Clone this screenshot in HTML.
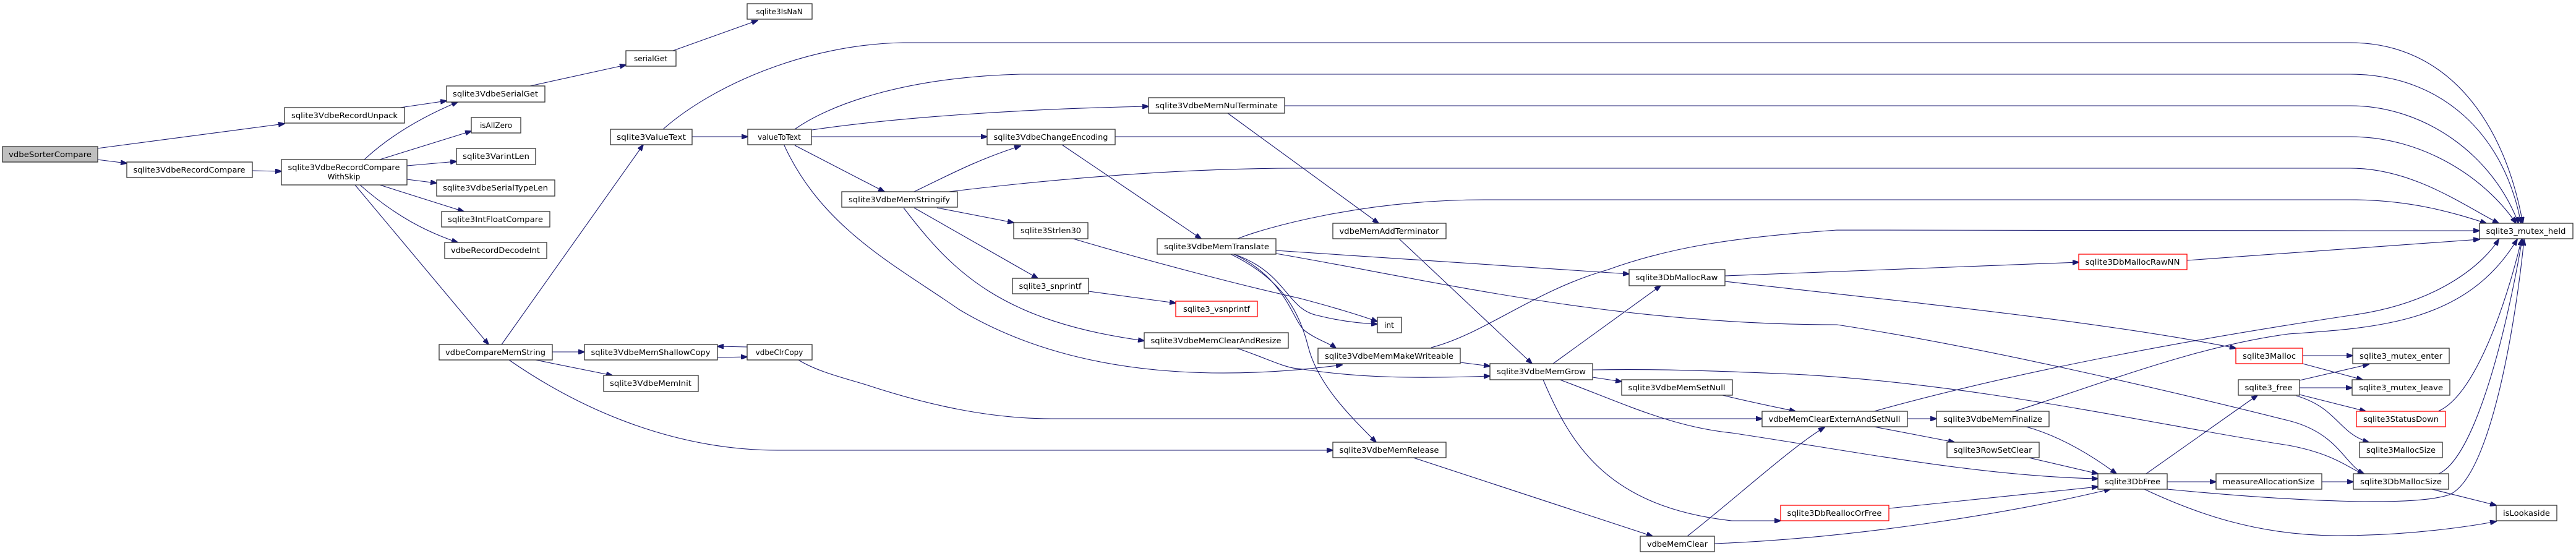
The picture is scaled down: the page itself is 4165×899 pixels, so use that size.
<!DOCTYPE html>
<html><head><meta charset="utf-8"><style>
html,body{margin:0;padding:0;background:#fff;}
svg{display:block}
.n rect{fill:#fff;stroke:#333;stroke-width:1.3}
.r rect{fill:#fff;stroke:#ff0000;stroke-width:1.3}
.g rect{fill:#bfbfbf;stroke:#333;stroke-width:1.3}
text{font-family:"DejaVu Sans","Liberation Sans",sans-serif;font-size:12px;fill:#000;text-anchor:middle}
path{fill:none;stroke:#191970;stroke-width:1.1}
</style></head><body>
<svg width="4165" height="899" viewBox="0 0 4165 899" xmlns="http://www.w3.org/2000/svg">
<defs><marker id="a" markerWidth="11" markerHeight="8" refX="10" refY="4" orient="auto" markerUnits="userSpaceOnUse"><path d="M0,0 L11,4 L0,8 z" style="fill:#191970;stroke:#191970;stroke-width:1"/></marker></defs>
<g marker-end="url(#a)">
<path d="M157,240 L460,200"/>
<path d="M157,258 L205,264"/>
<path d="M408,276 L455,277"/>
<path d="M647,174 L722,163"/>
<path d="M589,258 C630,220 680,190 740,165"/>
<path d="M614,258 L762,212"/>
<path d="M658,268 L738,261"/>
<path d="M658,290 L706,296"/>
<path d="M614,299 L750,342"/>
<path d="M582,299 C640,350 690,375 740,392"/>
<path d="M574,299 L790,557"/>
<path d="M857,139 L1012,105"/>
<path d="M1088,82 L1225,33"/>
<path d="M811,557 L1040,234"/>
<path d="M893,569 L945,569"/>
<path d="M866,582 L990,607"/>
<path d="M823,582 C950,670 1100,728 1258,728 L2155,728"/>
<path d="M1160,578 L1208,577"/>
<path d="M1208,561 L1160,560"/>
<path d="M1291,582 C1320,600 1360,610 1400,622 C1500,655 1600,677 1700,677 L2849,677"/>
<path d="M1119,221 L1209,221"/>
<path d="M1072,209 C1150,140 1300,72 1460,69 L3800,69 C3960,69 4050,200 4079,361"/>
<path d="M1285,209 C1340,170 1460,125 1650,120 L3800,120 C3950,120 4050,220 4076,361"/>
<path d="M1313,210 C1450,190 1650,176 1857,172"/>
<path d="M2077,171 L3800,171 C3920,171 4030,250 4072,361"/>
<path d="M1312,221 L1596,221"/>
<path d="M1803,221 L3800,221 C3920,221 4020,290 4068,361"/>
<path d="M1285,235 L1430,310"/>
<path d="M1268,235 C1330,370 1450,430 1550,500 C1750,620 2000,612 2170,590"/>
<path d="M1478,310 C1530,285 1580,258 1650,236"/>
<path d="M1534,310 C1700,290 1900,272 2100,272 L3800,272 C3900,272 3980,330 4040,361"/>
<path d="M1515,336 L1639,360"/>
<path d="M1478,336 L1678,450"/>
<path d="M1461,336 C1540,440 1620,520 1850,551"/>
<path d="M1760,471 L1901,490"/>
<path d="M1735,386 C1850,420 2000,460 2100,482 C2150,495 2200,510 2227,520"/>
<path d="M1995,411 C2080,440 2080,500 2130,510 C2170,520 2200,523 2227,524"/>
<path d="M1995,411 C2080,450 2090,520 2110,535 C2130,550 2150,555 2160,563"/>
<path d="M1990,411 C2070,450 2100,500 2115,560 C2130,620 2180,670 2225,715"/>
<path d="M2001,386 C2040,370 2200,323 2400,323 L3800,323 C3900,323 3970,345 4020,361"/>
<path d="M2063,405 L2634,443"/>
<path d="M2063,410 C2300,450 2600,525 2970,525 C3200,560 3500,630 3700,680 C3780,700 3790,750 3822,766"/>
<path d="M1985,183 L2229,361"/>
<path d="M1717,234 L1942,386"/>
<path d="M2262,386 L2477,588"/>
<path d="M2000,563 C2050,580 2080,596 2100,596 C2200,612 2300,612 2409,608"/>
<path d="M2361,586 L2409,592"/>
<path d="M2314,562 C2400,540 2480,470 2600,436 C2700,400 2800,384 2970,372 L3800,373 L4009,373"/>
<path d="M2511,588 L2685,462"/>
<path d="M2575,610 L2622,617"/>
<path d="M2575,598 C2700,596 2800,601 2900,605 C3200,620 3500,690 3700,720 C3780,735 3800,760 3822,766"/>
<path d="M2522,614 C2620,650 2700,690 2800,700 C3000,730 3200,770 3392,774"/>
<path d="M2495,614 C2540,720 2600,820 2800,842 L2879,842"/>
<path d="M2785,639 C2830,650 2870,658 2903,665"/>
<path d="M2285,740 L2672,867"/>
<path d="M2728,867 C2800,811 2900,720 2950,691"/>
<path d="M2772,879 C3000,870 3250,830 3412,791"/>
<path d="M3030,665 C3300,590 3600,540 3800,510 C3950,490 4020,420 4040,387"/>
<path d="M3084,677 L3131,677"/>
<path d="M3030,690 L3160,715"/>
<path d="M3276,690 C3330,705 3380,735 3422,766"/>
<path d="M3257,665 C3400,620 3550,560 3700,540 C3850,530 3990,520 4070,387"/>
<path d="M3280,740 L3392,766"/>
<path d="M3054,822 L3392,787"/>
<path d="M2789,446 L3361,424"/>
<path d="M2789,455 C3100,490 3400,520 3615,563"/>
<path d="M3536,421 L4009,387"/>
<path d="M3470,766 L3650,639"/>
<path d="M3504,779 L3583,779"/>
<path d="M3504,791 C3700,810 3900,820 3960,800 C4030,770 4070,500 4081,387"/>
<path d="M3467,791 C3550,830 3650,866 3780,866 C3900,866 4000,850 4036,843"/>
<path d="M3754,779 L3805,779"/>
<path d="M3943,766 C4000,740 4050,550 4078,387"/>
<path d="M3932,791 L4036,817"/>
<path d="M3723,575 L3804,575"/>
<path d="M3723,588 L3820,614"/>
<path d="M3718,615 L3830,589"/>
<path d="M3718,627 L3803,627"/>
<path d="M3718,638 L3825,665"/>
<path d="M3713,640 C3780,660 3780,700 3830,715"/>
<path d="M3942,665 C4000,640 4050,500 4077,387"/>
</g>
<g class="g"><rect x="4" y="237" width="154" height="25"/><text x="81" y="254" textLength="134" lengthAdjust="spacingAndGlyphs">vdbeSorterCompare</text></g>
<g class="n"><rect x="460" y="174" width="194" height="25"/><text x="557" y="191" textLength="172" lengthAdjust="spacingAndGlyphs">sqlite3VdbeRecordUnpack</text></g>
<g class="n"><rect x="205" y="262" width="203" height="25"/><text x="306" y="279" textLength="181" lengthAdjust="spacingAndGlyphs">sqlite3VdbeRecordCompare</text></g>
<g class="n"><rect x="455" y="258" width="203" height="41"/><text x="556" y="275" textLength="181" lengthAdjust="spacingAndGlyphs">sqlite3VdbeRecordCompare</text><text x="556" y="290">WithSkip</text></g>
<g class="n"><rect x="1208" y="6" width="105" height="25"/><text x="1260" y="23">sqlite3IsNaN</text></g>
<g class="n"><rect x="1012" y="82" width="81" height="25"/><text x="1052" y="99">serialGet</text></g>
<g class="n"><rect x="722" y="139" width="159" height="26"/><text x="801" y="156" textLength="138" lengthAdjust="spacingAndGlyphs">sqlite3VdbeSerialGet</text></g>
<g class="n"><rect x="762" y="190" width="80" height="25"/><text x="802" y="207">isAllZero</text></g>
<g class="n"><rect x="738" y="240" width="128" height="26"/><text x="802" y="257" textLength="108" lengthAdjust="spacingAndGlyphs">sqlite3VarintLen</text></g>
<g class="n"><rect x="706" y="291" width="191" height="26"/><text x="801" y="308" textLength="170" lengthAdjust="spacingAndGlyphs">sqlite3VdbeSerialTypeLen</text></g>
<g class="n"><rect x="714" y="342" width="175" height="25"/><text x="801" y="359" textLength="154" lengthAdjust="spacingAndGlyphs">sqlite3IntFloatCompare</text></g>
<g class="n"><rect x="719" y="392" width="165" height="26"/><text x="801" y="409" textLength="144" lengthAdjust="spacingAndGlyphs">vdbeRecordDecodeInt</text></g>
<g class="n"><rect x="987" y="209" width="132" height="25"/><text x="1053" y="226" textLength="112" lengthAdjust="spacingAndGlyphs">sqlite3ValueText</text></g>
<g class="n"><rect x="1209" y="209" width="103" height="25"/><text x="1260" y="226">valueToText</text></g>
<g class="n"><rect x="710" y="557" width="183" height="25"/><text x="801" y="574" textLength="162" lengthAdjust="spacingAndGlyphs">vdbeCompareMemString</text></g>
<g class="n"><rect x="945" y="557" width="215" height="25"/><text x="1052" y="574" textLength="193" lengthAdjust="spacingAndGlyphs">sqlite3VdbeMemShallowCopy</text></g>
<g class="n"><rect x="1208" y="557" width="105" height="25"/><text x="1260" y="574">vdbeClrCopy</text></g>
<g class="n"><rect x="976" y="607" width="153" height="26"/><text x="1052" y="624" textLength="132" lengthAdjust="spacingAndGlyphs">sqlite3VdbeMemInit</text></g>
<g class="n"><rect x="1361" y="310" width="187" height="25"/><text x="1454" y="327" textLength="164" lengthAdjust="spacingAndGlyphs">sqlite3VdbeMemStringify</text></g>
<g class="n"><rect x="1857" y="158" width="220" height="25"/><text x="1967" y="175" textLength="198" lengthAdjust="spacingAndGlyphs">sqlite3VdbeMemNulTerminate</text></g>
<g class="n"><rect x="1596" y="209" width="207" height="25"/><text x="1699" y="226" textLength="185" lengthAdjust="spacingAndGlyphs">sqlite3VdbeChangeEncoding</text></g>
<g class="n"><rect x="1639" y="360" width="120" height="26"/><text x="1699" y="377" textLength="98" lengthAdjust="spacingAndGlyphs">sqlite3Strlen30</text></g>
<g class="n"><rect x="1871" y="386" width="192" height="25"/><text x="1967" y="403" textLength="170" lengthAdjust="spacingAndGlyphs">sqlite3VdbeMemTranslate</text></g>
<g class="n"><rect x="1637" y="450" width="123" height="25"/><text x="1698" y="467" textLength="101" lengthAdjust="spacingAndGlyphs">sqlite3_snprintf</text></g>
<g class="r"><rect x="1901" y="487" width="132" height="25"/><text x="1967" y="504" textLength="108" lengthAdjust="spacingAndGlyphs">sqlite3_vsnprintf</text></g>
<g class="n"><rect x="1850" y="538" width="233" height="25"/><text x="1966" y="555" textLength="211" lengthAdjust="spacingAndGlyphs">sqlite3VdbeMemClearAndResize</text></g>
<g class="n"><rect x="2155" y="361" width="183" height="25"/><text x="2246" y="378" textLength="161" lengthAdjust="spacingAndGlyphs">vdbeMemAddTerminator</text></g>
<g class="n"><rect x="2634" y="436" width="155" height="26"/><text x="2711" y="453" textLength="133" lengthAdjust="spacingAndGlyphs">sqlite3DbMallocRaw</text></g>
<g class="n"><rect x="2227" y="513" width="39" height="25"/><text x="2246" y="530">int</text></g>
<g class="n"><rect x="2131" y="563" width="230" height="25"/><text x="2246" y="580" textLength="208" lengthAdjust="spacingAndGlyphs">sqlite3VdbeMemMakeWriteable</text></g>
<g class="n"><rect x="2409" y="588" width="166" height="26"/><text x="2492" y="605" textLength="144" lengthAdjust="spacingAndGlyphs">sqlite3VdbeMemGrow</text></g>
<g class="n"><rect x="2622" y="614" width="179" height="25"/><text x="2711" y="631" textLength="157" lengthAdjust="spacingAndGlyphs">sqlite3VdbeMemSetNull</text></g>
<g class="n"><rect x="2155" y="715" width="183" height="25"/><text x="2246" y="732" textLength="161" lengthAdjust="spacingAndGlyphs">sqlite3VdbeMemRelease</text></g>
<g class="n"><rect x="2652" y="867" width="120" height="25"/><text x="2712" y="884" textLength="98" lengthAdjust="spacingAndGlyphs">vdbeMemClear</text></g>
<g class="r"><rect x="3361" y="411" width="175" height="25"/><text x="3448" y="428" textLength="153" lengthAdjust="spacingAndGlyphs">sqlite3DbMallocRawNN</text></g>
<g class="n"><rect x="2849" y="665" width="235" height="25"/><text x="2966" y="682" textLength="213" lengthAdjust="spacingAndGlyphs">vdbeMemClearExternAndSetNull</text></g>
<g class="n"><rect x="3131" y="665" width="182" height="25"/><text x="3222" y="682" textLength="160" lengthAdjust="spacingAndGlyphs">sqlite3VdbeMemFinalize</text></g>
<g class="n"><rect x="3148" y="715" width="149" height="25"/><text x="3222" y="732" textLength="127" lengthAdjust="spacingAndGlyphs">sqlite3RowSetClear</text></g>
<g class="n"><rect x="3392" y="766" width="112" height="25"/><text x="3448" y="783" textLength="90" lengthAdjust="spacingAndGlyphs">sqlite3DbFree</text></g>
<g class="r"><rect x="2879" y="817" width="175" height="25"/><text x="2966" y="834" textLength="153" lengthAdjust="spacingAndGlyphs">sqlite3DbReallocOrFree</text></g>
<g class="n"><rect x="4009" y="361" width="151" height="25"/><text x="4084" y="378" textLength="129" lengthAdjust="spacingAndGlyphs">sqlite3_mutex_held</text></g>
<g class="r"><rect x="3615" y="563" width="108" height="25"/><text x="3669" y="580" textLength="86" lengthAdjust="spacingAndGlyphs">sqlite3Malloc</text></g>
<g class="n"><rect x="3804" y="563" width="156" height="25"/><text x="3882" y="580" textLength="134" lengthAdjust="spacingAndGlyphs">sqlite3_mutex_enter</text></g>
<g class="n"><rect x="3619" y="614" width="99" height="25"/><text x="3668" y="631" textLength="77" lengthAdjust="spacingAndGlyphs">sqlite3_free</text></g>
<g class="n"><rect x="3803" y="614" width="158" height="25"/><text x="3882" y="631" textLength="136" lengthAdjust="spacingAndGlyphs">sqlite3_mutex_leave</text></g>
<g class="r"><rect x="3810" y="665" width="144" height="25"/><text x="3882" y="682" textLength="122" lengthAdjust="spacingAndGlyphs">sqlite3StatusDown</text></g>
<g class="n"><rect x="3815" y="715" width="134" height="25"/><text x="3882" y="732" textLength="112" lengthAdjust="spacingAndGlyphs">sqlite3MallocSize</text></g>
<g class="n"><rect x="3583" y="766" width="171" height="25"/><text x="3668" y="783" textLength="149" lengthAdjust="spacingAndGlyphs">measureAllocationSize</text></g>
<g class="n"><rect x="3805" y="766" width="154" height="25"/><text x="3882" y="783" textLength="132" lengthAdjust="spacingAndGlyphs">sqlite3DbMallocSize</text></g>
<g class="n"><rect x="4036" y="817" width="98" height="25"/><text x="4085" y="834" textLength="76" lengthAdjust="spacingAndGlyphs">isLookaside</text></g>
</svg>
</body></html>
